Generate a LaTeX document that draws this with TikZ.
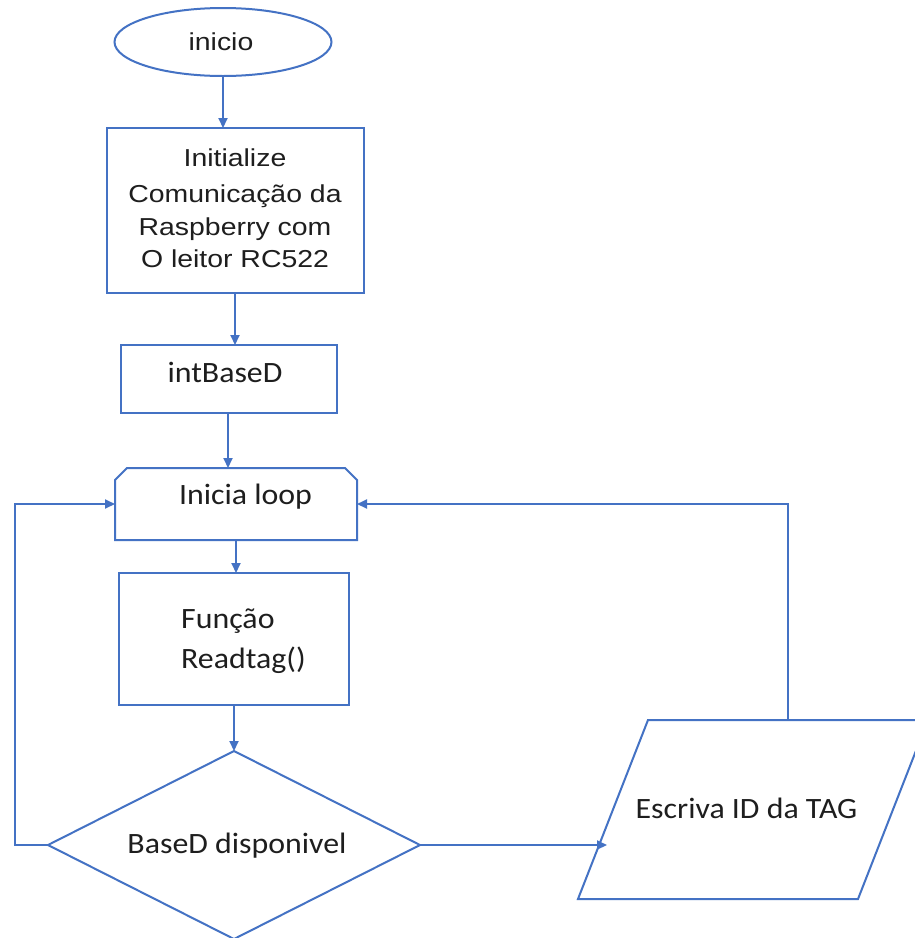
\documentclass[tikz,border=0pt]{standalone}
\usepackage{fontspec}
\usetikzlibrary{arrows.meta,shapes.geometric,calc}
\newfontfamily\arialf[FakeStretch=1.16]{Liberation Sans}
\newfontfamily\calib[FakeStretch=1.08]{Carlito}
\definecolor{flowblue}{HTML}{4472C4}
\definecolor{ink}{HTML}{1E1E1E}
\tikzset{
  flowline/.style={draw=flowblue, line width=2pt},
  flowarrow/.style={flowline, -{Triangle[length=10pt,width=9pt]}},
  boxshape/.style={rectangle, draw=flowblue, line width=2pt, inner sep=0pt, outer sep=0pt},
  arialtxt/.style={inner sep=0pt, anchor=base, text=ink, font=\arialf\fontsize{24.5}{33.7}\selectfont},
  calibtxt/.style={inner sep=0pt, anchor=base, text=ink, font=\calib\fontsize{29.5}{36}\selectfont},
}
\begin{document}
\begin{tikzpicture}[x=1pt,y=-1pt]
\clip (0,0) rectangle (915,938);
\fill[white] (0,0) rectangle (915,938);

% start terminal
\node[ellipse, draw=flowblue, line width=2pt, minimum width=217pt, minimum height=68pt,
      inner sep=0pt, outer sep=0pt] (start) at (223,42) {};
\node[arialtxt] (starttxt) at (221,50) {inicio};

% initialisation box
\node[boxshape, minimum width=257pt, minimum height=165pt] (init) at (235,210.5) {};
\node[arialtxt] (init1) at (235,166) {Initialize};
\node[arialtxt] (init2) at (235,202) {Comunicação da};
\node[arialtxt] (init3) at (235,235) {Raspberry com};
\node[arialtxt] (init4) at (235,267) {O leitor RC522};

% database init
\node[boxshape, minimum width=216pt, minimum height=68pt] (base) at (229,379) {};
\node[calibtxt] (basetxt) at (225,382) {intBaseD};

% loop start (chamfered top corners)
\node[minimum width=242pt, minimum height=72pt, inner sep=0pt, outer sep=0pt] (loop) at (236,504) {};
\draw[flowline] (loop.south west) -- ($(loop.north west)+(0,12)$) -- ($(loop.north west)+(12,0)$)
  -- ($(loop.north east)+(-12,0)$) -- ($(loop.north east)+(0,12)$) -- (loop.south east) -- cycle;
\node[calibtxt] (looptxt) at (245.5,504) {Inicia loop};

% read tag function
\node[boxshape, minimum width=230pt, minimum height=132pt] (read) at (234,639) {};
\node[calibtxt, anchor=base west] (read1) at (181,628) {Função};
\node[calibtxt, anchor=base west] (read2) at (181,668) {Readtag()};

% decision
\node[diamond, draw=flowblue, line width=2pt, minimum width=372pt, minimum height=188pt,
      inner sep=0pt, outer sep=0pt] (dec) at (234,845) {};
\node[calibtxt] (dectxt) at (237,853) {BaseD disponivel};

% output parallelogram
\node[minimum width=350pt, minimum height=179pt, inner sep=0pt, outer sep=0pt] (out) at (753,809.5) {};
\draw[flowline] (648,720) -- (928,720) -- (858,899) -- (578,899) -- cycle;
\node[calibtxt] (outtxt) at (746.5,818) {Escriva ID da TAG};
\coordinate (outin) at (607,845);
\coordinate (outtop) at (788,720);

% connectors
\draw[flowarrow] (start.south) -- (init.north -| start.south);
\draw[flowarrow] (init.south) -- (base.north -| init.south);
\draw[flowarrow] ([xshift=-1pt]base.south) -- ([xshift=-8pt]loop.north);
\draw[flowarrow] (loop.south) -- (read.north -| loop.south);
\draw[flowarrow] (read.south) -- (dec.north);
\draw[flowarrow] (dec.east) -- (outin);
\draw[flowarrow] (dec.west) -- (15,845) -- (15,504) -- (loop.west);
\draw[flowarrow] (outtop) -- (788,504) -- (loop.east);
\end{tikzpicture}
\end{document}
